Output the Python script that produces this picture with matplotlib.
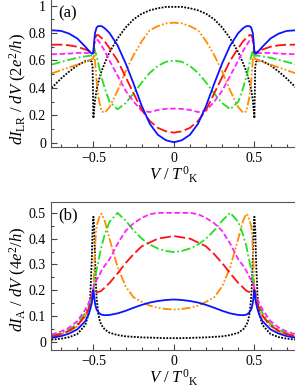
import numpy as np
import matplotlib
matplotlib.use('Agg')
import matplotlib.pyplot as plt
from matplotlib.ticker import MultipleLocator

plt.rcParams['font.family'] = 'Liberation Serif'
plt.rcParams['mathtext.fontset'] = 'custom'
plt.rcParams['mathtext.rm'] = 'Liberation Serif'
plt.rcParams['mathtext.it'] = 'Liberation Serif:italic'

# half grids (V >= 0); curves are symmetric in V
va = [0, 0.05, 0.1, 0.15, 0.2, 0.25, 0.3, 0.35, 0.4, 0.43, 0.45, 0.47, 0.48, 0.49, 0.495,
      0.5, 0.505, 0.51, 0.52, 0.55, 0.6, 0.65, 0.7, 0.76]
lr_blue = [0.005, 0.02, 0.06, 0.14, 0.27, 0.43, 0.58, 0.71, 0.80, 0.835, 0.85, 0.85, 0.84, 0.80, 0.74,
           0.66, 0.65, 0.65, 0.66, 0.70, 0.76, 0.795, 0.815, 0.82]
lr_red = [0.075, 0.085, 0.11, 0.16, 0.24, 0.36, 0.48, 0.60, 0.69, 0.74, 0.765, 0.785, 0.785, 0.76, 0.72,
          0.66, 0.655, 0.66, 0.665, 0.68, 0.70, 0.71, 0.715, 0.715]
lr_magenta = [0.25, 0.248, 0.24, 0.225, 0.235, 0.30, 0.38, 0.49, 0.60, 0.67, 0.71, 0.745, 0.755, 0.745, 0.72,
              0.66, 0.65, 0.65, 0.652, 0.655, 0.655, 0.65, 0.648, 0.645]
lr_green = [0.60, 0.59, 0.56, 0.51, 0.44, 0.36, 0.29, 0.245, 0.30, 0.40, 0.48, 0.58, 0.63, 0.67, 0.69,
            0.64, 0.635, 0.635, 0.635, 0.63, 0.62, 0.605, 0.59, 0.57]
lr_orange = [0.875, 0.87, 0.85, 0.82, 0.74, 0.64, 0.52, 0.38, 0.26, 0.22, 0.23, 0.34, 0.45, 0.60, 0.66,
             0.62, 0.61, 0.61, 0.605, 0.59, 0.57, 0.55, 0.53, 0.505]
lr_black = [0.99, 0.99, 0.98, 0.965, 0.94, 0.90, 0.84, 0.76, 0.66, 0.58, 0.52, 0.44, 0.39, 0.31, 0.25,
            0.18, 0.55, 0.59, 0.60, 0.595, 0.565, 0.52, 0.47, 0.40]

vb = [0, 0.05, 0.1, 0.15, 0.2, 0.25, 0.3, 0.35, 0.4, 0.43, 0.45, 0.46, 0.47, 0.48, 0.485, 0.49, 0.495,
      0.5, 0.505, 0.51, 0.52, 0.53, 0.55, 0.6, 0.65, 0.7, 0.76]
a_blue = [0.164, 0.162, 0.158, 0.152, 0.143, 0.132, 0.12, 0.11, 0.104, 0.103, 0.105, 0.109, 0.115, 0.125, 0.135, 0.15, 0.175,
          0.2, 0.17, 0.15, 0.125, 0.105, 0.08, 0.048, 0.032, 0.022, 0.015]
a_red = [0.41, 0.405, 0.40, 0.385, 0.37, 0.34, 0.305, 0.265, 0.228, 0.21, 0.198, 0.195, 0.193, 0.193, 0.195, 0.197, 0.2,
         0.205, 0.18, 0.165, 0.145, 0.128, 0.102, 0.063, 0.043, 0.03, 0.02]
a_orange = [0.125, 0.127, 0.132, 0.14, 0.155, 0.172, 0.215, 0.29, 0.40, 0.47, 0.497, 0.49, 0.47, 0.45, 0.42, 0.36, 0.29,
            0.2, 0.18, 0.165, 0.14, 0.125, 0.098, 0.06, 0.04, 0.028, 0.019]
a_green = [0.348, 0.352, 0.362, 0.377, 0.40, 0.432, 0.47, 0.50, 0.465, 0.415, 0.37, 0.34, 0.31, 0.28, 0.265, 0.25, 0.225,
           0.2, 0.19, 0.175, 0.155, 0.14, 0.112, 0.07, 0.048, 0.034, 0.024]
a_magenta = [0.50, 0.50, 0.50, 0.495, 0.48, 0.46, 0.43, 0.38, 0.32, 0.295, 0.275, 0.262, 0.25, 0.24, 0.234, 0.228, 0.22,
             0.21, 0.195, 0.185, 0.165, 0.15, 0.125, 0.08, 0.055, 0.04, 0.028]
a_black = [0.014, 0.014, 0.015, 0.016, 0.017, 0.019, 0.021, 0.026, 0.035, 0.048, 0.065, 0.08, 0.11, 0.17, 0.23, 0.32, 0.44,
           0.485, 0.44, 0.32, 0.17, 0.11, 0.065, 0.03, 0.018, 0.012, 0.008]


def mirror(v, y):
    v = np.asarray(v); y = np.asarray(y)
    return np.concatenate([-v[::-1], v[1:]]), np.concatenate([y[::-1], y[1:]])


styles = {
    'blue': dict(color='#0a14ff', ls='-'),
    'red': dict(color='#ff1010', ls=(0, (6, 2))),
    'magenta': dict(color='#ff20ff', ls=(0, (3, 1.5))),
    'green': dict(color='#20e020', ls=(0, (5, 1.5, 1, 1.5))),
    'orange': dict(color='#ff8c00', ls=(0, (5, 1.2, 1, 1.2, 1, 1.2))),
    'black': dict(color='black', ls=(0, (1, 0.8))),
}

fig = plt.figure(figsize=(2.95, 3.87), dpi=100)
ax1 = fig.add_axes([0.172, 0.621, 0.835, 0.385])
ax2 = fig.add_axes([0.172, 0.0956, 0.835, 0.383])

for name, y in [('black', lr_black), ('orange', lr_orange), ('green', lr_green),
                ('magenta', lr_magenta), ('red', lr_red), ('blue', lr_blue)]:
    xx, yy = mirror(va, y)
    ax1.plot(xx, yy, lw=1.3, **styles[name])

for name, y in [('black', a_black), ('orange', a_orange), ('green', a_green),
                ('magenta', a_magenta), ('red', a_red), ('blue', a_blue)]:
    xx, yy = mirror(vb, y)
    ax2.plot(xx, yy, lw=1.3, **styles[name])

ax1.set_xlim(-0.765, 0.765)
ax1.set_ylim(-0.027, 1.057)
ax2.set_xlim(-0.765, 0.765)
ax2.set_ylim(-0.032, 0.543)

for ax in (ax1, ax2):
    ax.xaxis.set_major_locator(MultipleLocator(0.5))
    ax.xaxis.set_minor_locator(MultipleLocator(0.1))
    ax.tick_params(which='both', direction='in', labelsize=10, colors='#444444', labelcolor='black')
    ax.tick_params(which='major', length=4, width=0.8)
    ax.tick_params(which='minor', length=2.5, width=0.8)
    for s in ax.spines.values():
        s.set_color('#555555')
    ax.set_xticks([-0.5, 0, 0.5])
    ax.set_xticklabels(['\u22120.5', '0', '0.5'])
    ax.set_xlabel(r'$V\ /\ T^{0}{}_{\rm K}$', fontsize=12, labelpad=0)

ax1.yaxis.set_minor_locator(MultipleLocator(0.1))
ax1.set_yticks([0, 0.2, 0.4, 0.6, 0.8, 1.0])
ax1.set_yticklabels(['0', '0.2', '0.4', '0.6', '0.8', '1'])
ax2.yaxis.set_minor_locator(MultipleLocator(0.05))
ax2.set_yticks([0, 0.1, 0.2, 0.3, 0.4, 0.5])
ax2.set_yticklabels(['0', '0.1', '0.2', '0.3', '0.4', '0.5'])

fig.text(18 / 295, 1 - 89 / 387, r'$dI_{\rm LR}\ /\ dV\ (2e^2/h)$', rotation=90,
         ha='center', va='center', fontsize=12)
fig.text(18 / 295, 1 - 279 / 387, r'$dI_{\rm A}\ /\ dV\ (4e^2/h)$', rotation=90,
         ha='center', va='center', fontsize=12)
ax1.text(0.03, 0.95, '(a)', transform=ax1.transAxes, fontsize=12, va='top', ha='left')
ax2.text(0.03, 0.965, '(b)', transform=ax2.transAxes, fontsize=12, va='top', ha='left')

fig.savefig('out.png', dpi=100)
